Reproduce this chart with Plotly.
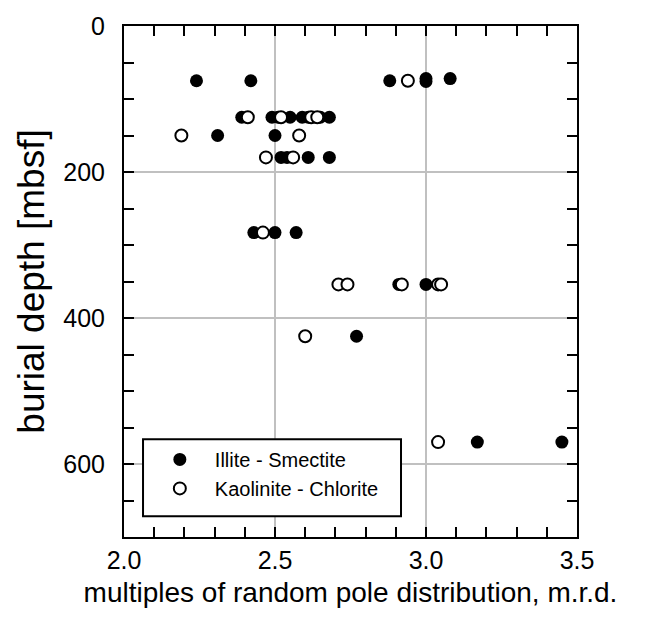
import plotly.graph_objects as go

# Illite - Smectite (filled circles)
illite_x = [2.24, 2.42, 2.88, 3.00, 3.00, 3.08,
            2.39, 2.49, 2.51, 2.55, 2.59, 2.61, 2.65, 2.68,
            2.31, 2.50,
            2.52, 2.54, 2.61, 2.68,
            2.43, 2.50, 2.57,
            2.91, 3.00,
            2.77,
            3.17, 3.45]
illite_depth = [75, 75, 75, 72, 76, 72,
                125, 125, 125, 125, 125, 125, 125, 125,
                150, 150,
                180, 180, 180, 180,
                283, 283, 283,
                354, 354,
                425,
                570, 570]

# Kaolinite - Chlorite (open circles)
kaol_x = [2.94,
          2.41, 2.52, 2.62, 2.64,
          2.19, 2.58,
          2.47, 2.56,
          2.46,
          2.71, 2.74, 2.92, 3.04, 3.05,
          2.60,
          3.04]
kaol_depth = [75,
              125, 125, 125, 125,
              150, 150,
              180, 180,
              283,
              354, 354, 354, 354, 354,
              425,
              570]

x_ticks = [2.0, 2.5, 3.0, 3.5]
y_ticks = [0, 200, 400, 600]

FONT = "Liberation Sans, Arial, sans-serif"

fig = go.Figure()
fig.add_trace(go.Scatter(
    x=illite_x, y=illite_depth, mode="markers", name="Illite - Smectite",
    marker=dict(size=13, color="black", line=dict(width=0)),
))
fig.add_trace(go.Scatter(
    x=kaol_x, y=kaol_depth, mode="markers", name="Kaolinite - Chlorite",
    marker=dict(size=12, color="white", line=dict(color="black", width=2)),
))

axis_common = dict(
    showline=True, linecolor="black", linewidth=2, mirror="allticks",
    ticks="inside", ticklen=10, tickwidth=2, tickcolor="black",
    showgrid=True, gridcolor="#c0c0c0", gridwidth=2, zeroline=False,
    tickfont=dict(family=FONT, size=25, color="black"),
)

fig.update_layout(
    width=662, height=639,
    margin=dict(l=124, r=85, t=20, b=102),
    paper_bgcolor="white", plot_bgcolor="white",
    font=dict(family=FONT, color="black"),
    xaxis=dict(
        range=[2.0, 3.5], tickvals=x_ticks, tickformat=".1f",
        minor=dict(dtick=0.1, ticks="inside", ticklen=10, tickwidth=2,
                   tickcolor="black", showgrid=False),
        title=dict(text="multiples of random pole distribution, m.r.d.",
                   font=dict(family=FONT, size=28), standoff=9),
        **axis_common,
    ),
    yaxis=dict(
        range=[700, 0], tickvals=y_ticks,
        minor=dict(dtick=50, ticks="inside", ticklen=10, tickwidth=2,
                   tickcolor="black", showgrid=False),
        title=dict(text="burial depth [mbsf]",
                   font=dict(family=FONT, size=37), standoff=7),
        ticklabelstandoff=12,
        **axis_common,
    ),
    showlegend=True,
    legend=dict(
        x=0.046, y=0.19, xanchor="left", yanchor="top",
        bgcolor="rgba(0,0,0,0)", borderwidth=0,
        font=dict(family=FONT, size=20, color="black"),
        itemwidth=60,
    ),
    shapes=[dict(
        type="rect", xref="paper", yref="paper",
        x0=0.042, x1=0.6115, y0=0.0406, y1=0.1915,
        fillcolor="white", line=dict(color="black", width=2), layer="above",
    )],
)

fig.write_html("out.html")
